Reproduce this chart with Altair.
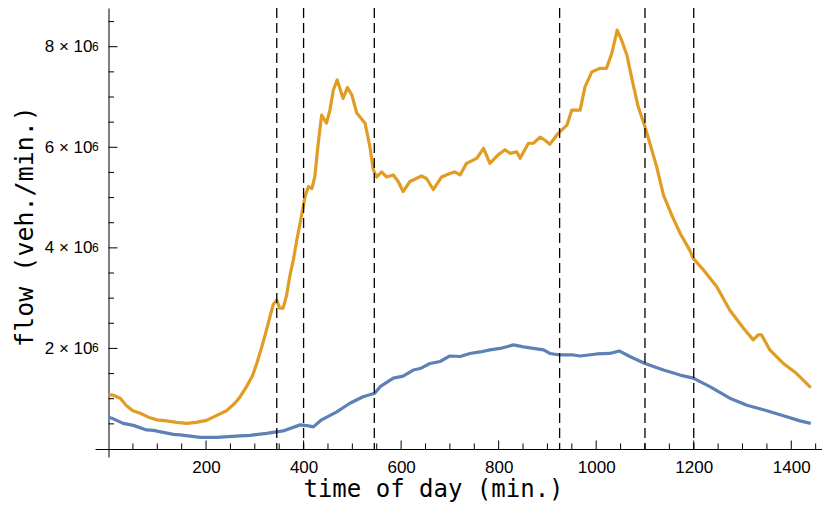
import altair as alt
import pandas as pd

# ---- data (flow in millions of veh./min.) ----
orange_t = [0, 10, 24, 37, 50, 65, 85, 100, 119, 140, 160, 180, 201, 220, 242, 260, 270, 283,
            295, 304, 317, 324, 331, 338, 345, 351, 358, 365, 372, 379, 386, 393, 403, 410,
            417, 423, 430, 437, 447, 454, 461, 469, 481, 490, 499, 509, 526, 536, 543, 550,
            560, 570, 584, 594, 604, 618, 642, 652, 666, 683, 700, 710, 721, 734, 755, 769,
            782, 799, 813, 823, 837, 844, 861, 871, 885, 895, 905, 919, 926, 940, 950, 967,
            977, 991, 1008, 1021, 1032, 1043, 1052, 1063, 1073, 1086, 1100, 1110, 1124, 1138,
            1155, 1172, 1192, 1199, 1220, 1247, 1274, 1302, 1322, 1332, 1339, 1356, 1384,
            1411, 1440]
orange_v = [1.08, 1.07, 1.01, 0.86, 0.76, 0.71, 0.62, 0.58, 0.56, 0.53, 0.51, 0.53, 0.57, 0.66,
            0.76, 0.92, 1.04, 1.24, 1.45, 1.70, 2.12, 2.37, 2.63, 2.88, 2.96, 2.80, 2.80, 3.05,
            3.45, 3.76, 4.15, 4.50, 5.02, 5.22, 5.18, 5.41, 6.08, 6.64, 6.48, 6.74, 7.14, 7.34,
            6.97, 7.19, 7.04, 6.68, 6.48, 6.01, 5.55, 5.41, 5.51, 5.41, 5.45, 5.32, 5.12, 5.32,
            5.43, 5.38, 5.16, 5.41, 5.48, 5.51, 5.45, 5.68, 5.78, 5.98, 5.68, 5.85, 5.95, 5.88,
            5.91, 5.78, 6.08, 6.08, 6.20, 6.14, 6.06, 6.24, 6.31, 6.44, 6.74, 6.74, 7.20, 7.50,
            7.57, 7.57, 7.87, 8.33, 8.13, 7.83, 7.37, 6.81, 6.41, 6.08, 5.61, 5.05, 4.65, 4.29,
            3.95, 3.79, 3.56, 3.23, 2.76, 2.40, 2.17, 2.27, 2.27, 1.97, 1.70, 1.50, 1.22]

blue_t = [0, 10, 30, 51, 78, 92, 133, 147, 188, 222, 270, 290, 324, 358, 393, 410, 420, 437,
          468, 495, 522, 546, 557, 584, 604, 625, 639, 659, 680, 700, 721, 741, 762, 782, 803,
          830, 851, 871, 892, 905, 926, 953, 967, 1001, 1028, 1047, 1069, 1100, 1138, 1172,
          1199, 1233, 1274, 1309, 1343, 1384, 1418, 1440]
blue_v = [0.63, 0.60, 0.51, 0.47, 0.38, 0.37, 0.29, 0.28, 0.23, 0.23, 0.26, 0.27, 0.31, 0.36,
          0.48, 0.46, 0.44, 0.58, 0.74, 0.91, 1.04, 1.11, 1.24, 1.41, 1.45, 1.57, 1.60, 1.70,
          1.74, 1.85, 1.84, 1.90, 1.93, 1.97, 2.00, 2.07, 2.03, 2.00, 1.97, 1.90, 1.87, 1.87,
          1.85, 1.89, 1.90, 1.95, 1.84, 1.70, 1.57, 1.47, 1.41, 1.24, 1.01, 0.87, 0.78, 0.66,
          0.56, 0.51]

event_t = [345, 400, 545, 925, 1100, 1200]

x_major = [200, 400, 600, 800, 1000, 1200, 1400]
x_minor = [t for t in range(50, 1451, 50) if t not in x_major]
y_major = [2e6, 4e6, 6e6, 8e6]
y_minor = [k * 0.5e6 for k in range(1, 18) if k % 4 != 0]
y_exponent = "6"

# ---- layout ----
W, H = 727, 449
X_DOMAIN = [-27.7, 1463]
Y_DOMAIN = [-0.159e6, 8.77e6]
XU = (X_DOMAIN[1] - X_DOMAIN[0]) / W   # data units per pixel
YU = (Y_DOMAIN[1] - Y_DOMAIN[0]) / H

ORANGE = "#E19C24"
BLUE = "#5E81B5"

lines = pd.concat([
    pd.DataFrame({"t": blue_t, "v": [v * 1e6 for v in blue_v], "s": "b"}),
    pd.DataFrame({"t": orange_t, "v": [v * 1e6 for v in orange_v], "s": "o"}),
])

sx = alt.Scale(domain=X_DOMAIN, nice=False, zero=False)
sy = alt.Scale(domain=Y_DOMAIN, nice=False, zero=False)

ax_x = alt.Axis(values=x_major, format="d", ticks=False, tickSize=0, grid=False,
                domainColor="black", domainWidth=1, offset=-8,
                labelFont="Liberation Sans", labelFontSize=17, labelColor="black",
                labelPadding=10, labelFlush=False, labelOverlap=False,
                title="time of day (min.)", titleFont="DejaVu Sans Mono",
                titleFontSize=24, titleFontWeight="normal", titleColor="black",
                titleX=338, titleY=47.5, titleAlign="center", titleBaseline="alphabetic",
                titleAnchor="start")
ax_y = alt.Axis(values=y_major,
                labelExpr="format(datum.value/1e6, 'd') + ' \u00d7 10'",
                ticks=False, tickSize=0, grid=False,
                domainColor="black", domainWidth=1, offset=-13.5,
                labelFont="Liberation Sans", labelFontSize=17, labelColor="black",
                labelPadding=16.5, labelFlush=False, labelOverlap=False,
                labelBaseline="middle",
                title="flow (veh./min.)", titleFont="DejaVu Sans Mono",
                titleFontSize=25, titleFontWeight="normal", titleColor="black",
                titleX=-76.5, titleY=218, titleAngle=270, titleAlign="center",
                titleBaseline="alphabetic", titleAnchor="start")

X = lambda f="t": alt.X(f + ":Q", scale=sx, axis=ax_x)
Y = lambda f="v": alt.Y(f + ":Q", scale=sy, axis=ax_y)

line_layer = alt.Chart(lines).mark_line(strokeWidth=3.2, strokeJoin="round", clip=True).encode(
    x=X(), y=Y(),
    color=alt.Color("s:N", scale=alt.Scale(domain=["b", "o"], range=[BLUE, ORANGE]), legend=None),
    detail="s:N",
)

ev = pd.DataFrame({"t": event_t, "v": Y_DOMAIN[1], "v2": 0.0})
event_layer = alt.Chart(ev).mark_rule(color="black", strokeWidth=1.3, strokeDash=[10, 5]).encode(
    x=X(), y=Y(), y2="v2:Q")

# inward-pointing axis ticks
yt = pd.DataFrame({
    "v": y_major + y_minor,
    "t": 0.0,
    "t2": [9 * XU] * len(y_major) + [5.5 * XU] * len(y_minor),
})
ytick_layer = alt.Chart(yt).mark_rule(color="black", strokeWidth=1).encode(
    x=X(), x2="t2:Q", y=Y())

xt = pd.DataFrame({
    "t": x_major + x_minor,
    "v": 0.0,
    "v2": [8.5 * YU] * len(x_major) + [5.5 * YU] * len(x_minor),
})
xtick_layer = alt.Chart(xt).mark_rule(color="black", strokeWidth=1).encode(
    x=X(), y=Y(), y2="v2:Q")

# superscript exponent of the y tick labels
sup = pd.DataFrame({"t": 0.0, "v": y_major, "e": y_exponent})
sup_layer = alt.Chart(sup).mark_text(
    align="left", baseline="alphabetic", dx=-16.5, dy=4,
    font="Liberation Sans", fontSize=12, color="black",
).encode(x=X(), y=Y(), text="e:N")

chart = alt.layer(ytick_layer, xtick_layer, line_layer, event_layer, sup_layer).properties(
    width=W, height=H,
    autosize=alt.AutoSizeParams(type="none"),
    padding={"left": 87, "top": 0, "right": 0, "bottom": 45},
    background="white",
).configure_view(stroke=None)

chart.save("out.html", embed_options={"renderer": "svg", "actions": False})
